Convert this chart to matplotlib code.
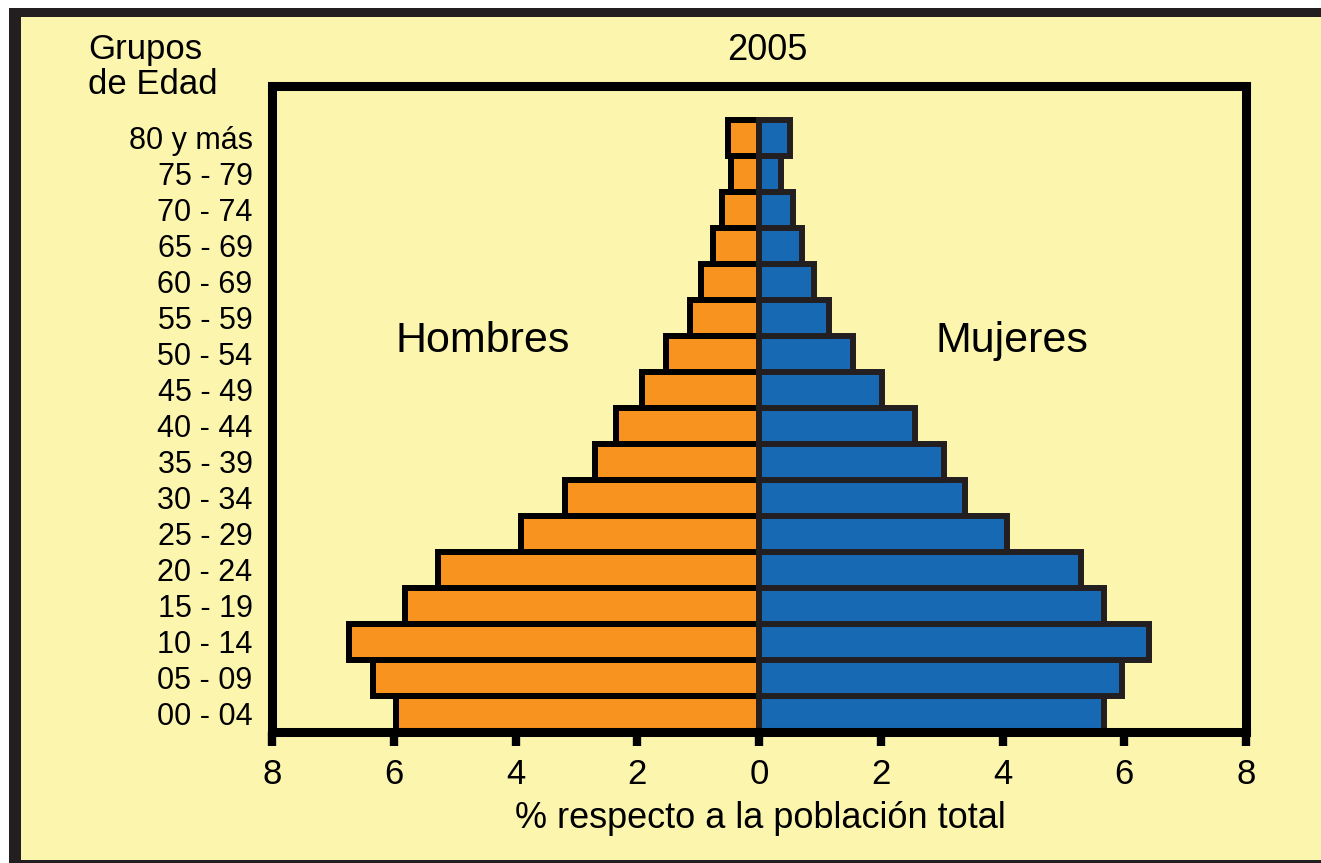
import numpy as np
import matplotlib.pyplot as plt
from matplotlib.patches import Rectangle

plt.rcParams['font.family'] = ['Liberation Sans', 'DejaVu Sans']

# grupos de edad (de abajo hacia arriba)
grupos = ['00 - 04', '05 - 09', '10 - 14', '15 - 19', '20 - 24', '25 - 29',
          '30 - 34', '35 - 39', '40 - 44', '45 - 49', '50 - 54', '55 - 59',
          '60 - 69', '65 - 69', '70 - 74', '75 - 79', '80 y más']

# % respecto a la poblacion total, 2005
hombres = [5.96, 6.34, 6.73, 5.81, 5.27, 3.91, 3.19, 2.69, 2.35, 1.92,
           1.53, 1.13, 0.95, 0.76, 0.61, 0.46, 0.51]
mujeres = [5.67, 5.96, 6.40, 5.67, 5.29, 4.07, 3.38, 3.04, 2.56, 2.02,
           1.54, 1.15, 0.90, 0.71, 0.56, 0.36, 0.51]

xticks = [-8, -6, -4, -2, 0, 2, 4, 6, 8]

fondo = '#FCF5AE'
naranja = '#F7931E'
azul = '#1769B4'

W, H = 1321, 863
fig = plt.figure(figsize=(W / 100, H / 100), dpi=100, facecolor='white')

# marco exterior
fig.patches.append(Rectangle((21 / W, 0), 1, 1 - 17 / H, transform=fig.transFigure,
                             facecolor=fondo, edgecolor='none', zorder=-3))
fig.patches.append(Rectangle((9 / W, 1 - 17 / H), 1, 9 / H, transform=fig.transFigure,
                             facecolor='#231F20', edgecolor='none', zorder=-2))
fig.patches.append(Rectangle((9 / W, 0), 12 / W, 1 - 8 / H, transform=fig.transFigure,
                             facecolor='#231F20', edgecolor='none', zorder=-2))
fig.patches.append(Rectangle((9 / W, 0), 1, 3 / H, transform=fig.transFigure,
                             facecolor='#231F20', edgecolor='none', zorder=-2))

ax = fig.add_axes([272 / W, 1 - 732 / H, (1246 - 272) / W, (732 - 86) / H])
ax.set_facecolor(fondo)

y = np.arange(len(grupos))
ax.barh(y, -np.array(hombres), height=1.0, color=naranja, edgecolor='black',
        linewidth=4.3, zorder=2)
ax.barh(y, mujeres, height=1.0, color=azul, edgecolor='#231F20',
        linewidth=4.3, zorder=2)

ax.set_xlim(-8, 8)
ax.set_ylim(-0.5, 17.44)
ax.set_xticks(xticks)
ax.set_xticklabels([str(abs(v)) for v in xticks], fontsize=25)
ax.set_yticks(y)
ax.set_yticklabels(grupos, fontsize=22)
ax.tick_params(axis='x', direction='out', length=10, width=6, pad=9, colors='black')
ax.tick_params(axis='y', length=0, pad=14)
for s in ax.spines.values():
    s.set_linewidth(6.5)
    s.set_color('black')
    s.set_zorder(3)

fig.text(88 / W, 1 - 67 / H, 'Grupos\nde Edad', fontsize=25, ha='left', va='center',
         linespacing=1.05)
fig.text(767 / W, 1 - 51 / H, '2005', fontsize=26, ha='center', va='center')
fig.text(483 / W, 1 - 341 / H, 'Hombres', fontsize=31, ha='center', va='center')
fig.text(1012 / W, 1 - 341 / H, 'Mujeres', fontsize=31, ha='center', va='center')
fig.text(760 / W, 1 - 818 / H, '% respecto a la población total', fontsize=26,
         ha='center', va='center')

fig.savefig('out.png', dpi=100, facecolor=fig.get_facecolor())
